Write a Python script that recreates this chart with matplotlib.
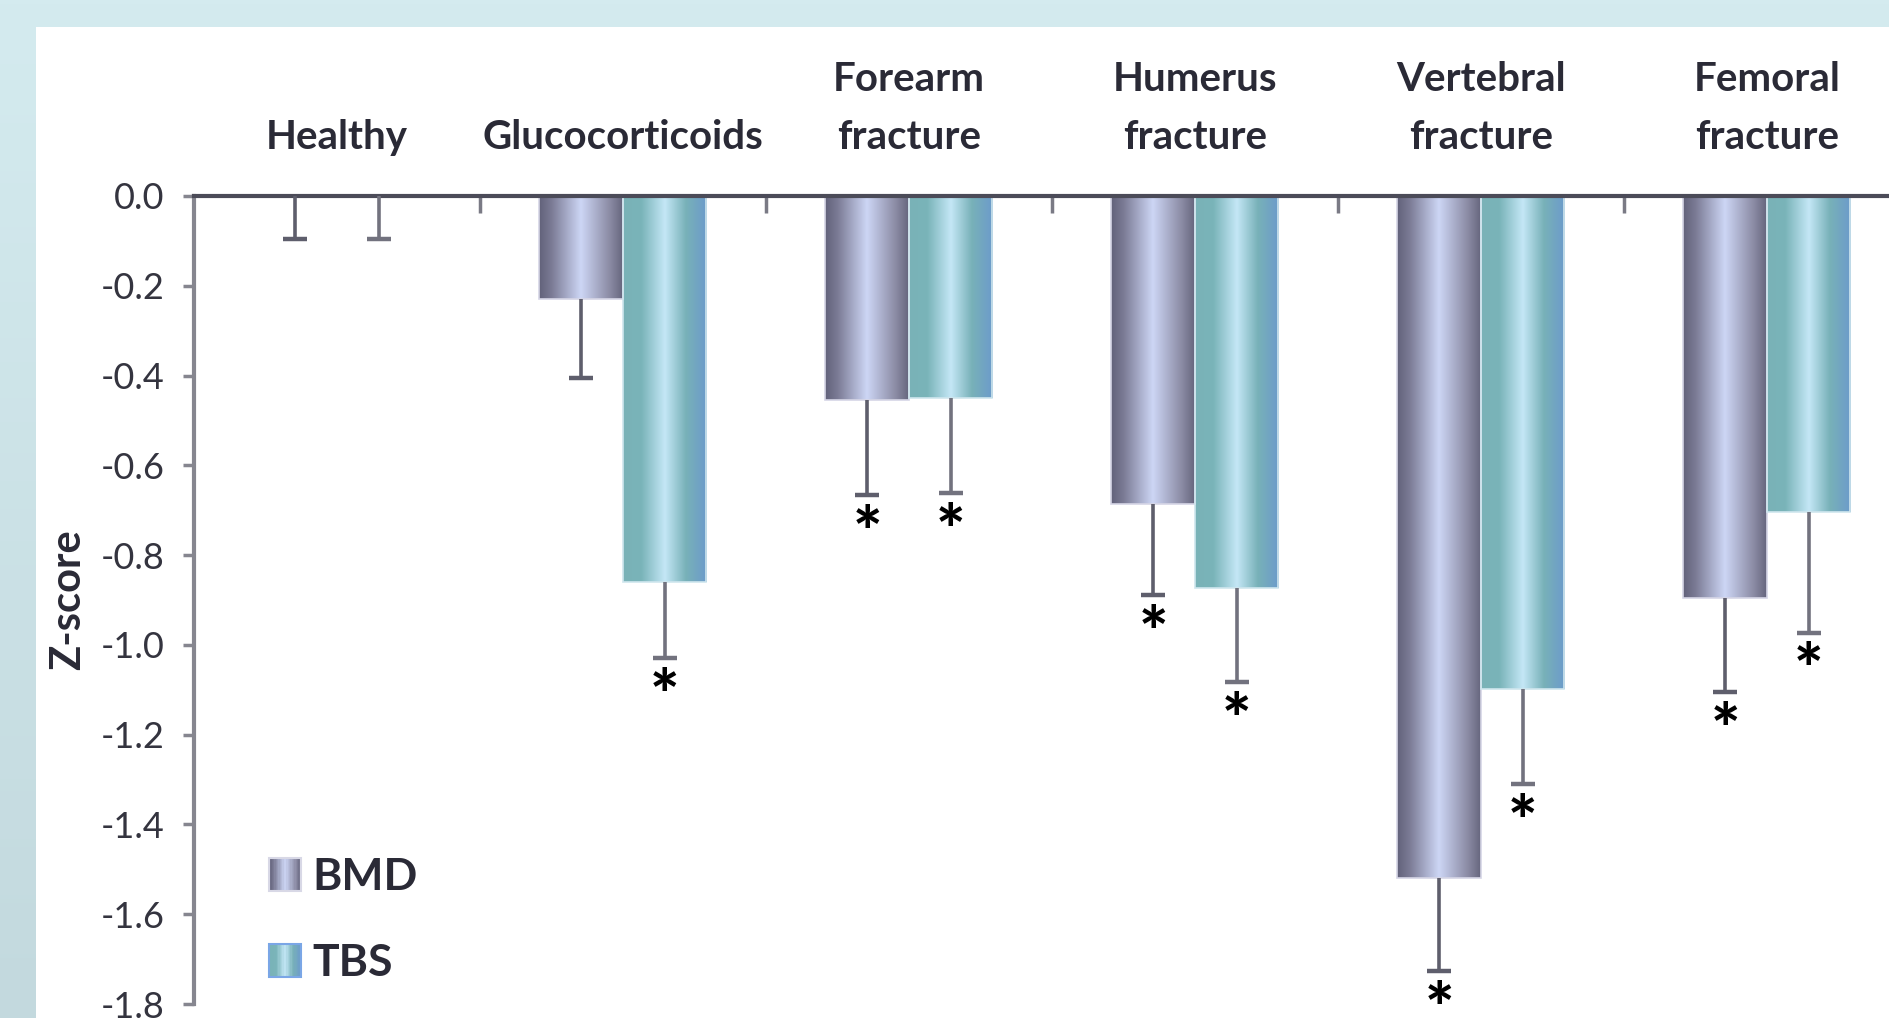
import numpy as np
import matplotlib
matplotlib.use('Agg')
import matplotlib.pyplot as plt
from matplotlib.patches import Rectangle
from matplotlib.colors import LinearSegmentedColormap
from matplotlib.legend_handler import HandlerBase

plt.rcParams['font.family'] = ['Lato', 'DejaVu Sans']
plt.rcParams['axes.unicode_minus'] = False

# Z-score medio por grupo (barra) e desvio (so para baixo)
grupos = ['Healthy', 'Glucocorticoids', 'Forearm\nfracture', 'Humerus\nfracture',
          'Vertebral\nfracture', 'Femoral\nfracture']
bmd = [0.0, -0.23, -0.455, -0.686, -1.52, -0.895]
tbs = [0.0, -0.86, -0.45, -0.874, -1.098, -0.705]
bmd_err = [0.095, 0.175, 0.212, 0.204, 0.207, 0.21]
tbs_err = [0.095, 0.17, 0.212, 0.209, 0.213, 0.268]
# asterisco = diferenca significativa
bmd_sig = [False, False, True, True, True, True]
tbs_sig = [False, True, True, True, True, True]
yticks = [0.0, -0.2, -0.4, -0.6, -0.8, -1.0, -1.2, -1.4, -1.6, -1.8]

cor_bmd = LinearSegmentedColormap.from_list('bmd', [
    (0.0, '#62627a'), (0.15, '#7b7b95'), (0.5, '#cdd6f5'),
    (0.85, '#8a8aa3'), (1.0, '#66667e')])
cor_tbs = LinearSegmentedColormap.from_list('tbs', [
    (0.0, '#79b2b7'), (0.22, '#7ab4b9'), (0.5, '#c4e7f6'),
    (0.75, '#78b1b8'), (1.0, '#6c9bcb')])


class HandlerGradiente(HandlerBase):
    # quadradinho da legenda com o mesmo degrade das barras
    def __init__(self, cmap, borda):
        super().__init__()
        self.cmap = cmap
        self.borda = borda

    def create_artists(self, legend, orig_handle, xdescent, ydescent,
                       width, height, fontsize, trans):
        n = 24
        arts = []
        for i in range(n):
            arts.append(Rectangle((-xdescent + i * width / n, -ydescent), width / n, height,
                                  facecolor=self.cmap((i + 0.5) / n), edgecolor='none',
                                  transform=trans))
        arts.append(Rectangle((-xdescent, -ydescent), width, height, facecolor='none',
                              edgecolor=self.borda, lw=1.5, transform=trans))
        return arts


fig = plt.figure(figsize=(18.9, 10.18), dpi=100)

# fundo azulado + painel branco
fundo = fig.add_axes([0, 0, 1, 1], zorder=-10)
fundo.axis('off')
grad = np.linspace(0, 1, 256).reshape(-1, 1)
fundo.imshow(grad, extent=[0, 1, 0, 1], aspect='auto', origin='upper',
             cmap=LinearSegmentedColormap.from_list('bg', ['#d4ebef', '#c3d9de']))
fundo.add_patch(Rectangle((36 / 1890, 0), 1, 1 - 27 / 1018, facecolor='white', edgecolor='none'))
fundo.set_xlim(0, 1)
fundo.set_ylim(0, 1)

ax = fig.add_axes([0.10265, 0.01375, 0.9079, 0.79375])
ax.set_facecolor('none')

x = np.arange(len(grupos))
w = 0.292
b1 = ax.bar(x - w / 2, bmd, w, facecolor='none', edgecolor='#d6d6e6', lw=1.2, zorder=2)
b2 = ax.bar(x + w / 2, tbs, w, facecolor='none', edgecolor='#cfe6ee', lw=1.2, zorder=2)

# degrade horizontal dentro de cada barra
for barras, cmap in ((b1, cor_bmd), (b2, cor_tbs)):
    for r in barras:
        h = r.get_height()
        if h == 0:
            continue
        x0 = r.get_x()
        im = ax.imshow(np.linspace(0, 1, 256).reshape(1, -1), cmap=cmap, aspect='auto',
                       extent=[x0, x0 + r.get_width(), h, 0], zorder=1.9, interpolation='bilinear')
        im.set_clip_path(r)

# barras de erro so para baixo
for xs, vals, errs, cor in ((x - w / 2, bmd, bmd_err, '#5e5e6c'),
                            (x + w / 2, tbs, tbs_err, '#72727e')):
    fim = np.array(vals) - np.array(errs)
    ax.vlines(xs, vals, fim, colors=cor, lw=2.6, zorder=3)
    ax.plot(xs, fim, ls='none', marker='_', ms=17, mew=3.2, color=cor, zorder=3)

for xs, vals, errs, sig in ((x - w / 2, bmd, bmd_err, bmd_sig),
                            (x + w / 2, tbs, tbs_err, tbs_sig)):
    for xi, v, e, s in zip(xs, vals, errs, sig):
        if s:
            ax.annotate('*', xy=(xi, v - e), xytext=(0, -7), textcoords='offset points',
                        ha='center', va='top', fontsize=50, fontweight='black', color='black',
                        annotation_clip=False)

ax.set_xlim(-0.5, len(grupos) - 0.5)
ax.set_ylim(-1.8, 0)

for s in ('right', 'bottom'):
    ax.spines[s].set_visible(False)
ax.spines['top'].set_color('#4b4b58')
ax.spines['top'].set_linewidth(3)
ax.spines['left'].set_color('#86868f')
ax.spines['left'].set_linewidth(3)

ax.xaxis.tick_top()
ax.set_xticks(x)
ax.set_xticklabels(grupos, fontsize=29, fontweight='bold', color='#2a2a36', linespacing=1.68)
ax.set_xticks(x[:-1] + 0.5, minor=True)
ax.tick_params(axis='x', which='major', length=0, pad=29)
ax.tick_params(axis='x', which='minor', direction='in', length=12, width=2.5, color='#7a7a85')

ax.set_yticks(yticks)
ax.set_yticklabels(['%.1f' % v for v in yticks])
ax.tick_params(axis='y', direction='out', length=8, width=2.5, color='#86868f',
               labelsize=26, labelcolor='#34343f', pad=13)
ax.set_ylabel('Z-score', fontsize=30, fontweight='bold', color='#2a2a36')
ax.yaxis.set_label_coords(-0.0625, 0.5)

fig.legend([b1, b2], ['BMD', 'TBS'],
           handler_map={b1: HandlerGradiente(cor_bmd, '#d8d8e6'), b2: HandlerGradiente(cor_tbs, '#7aa6e6')},
           loc='center left', bbox_to_anchor=(269 / 1890, 1 - 920 / 1018), bbox_transform=fig.transFigure,
           frameon=False, borderpad=0, borderaxespad=0, handlelength=0.72, handleheight=0.77,
           handletextpad=0.25, labelspacing=1.04,
           prop={'size': 32, 'weight': 'bold'}, labelcolor='#2a2a36')

fig.savefig('out.png', dpi=100)
